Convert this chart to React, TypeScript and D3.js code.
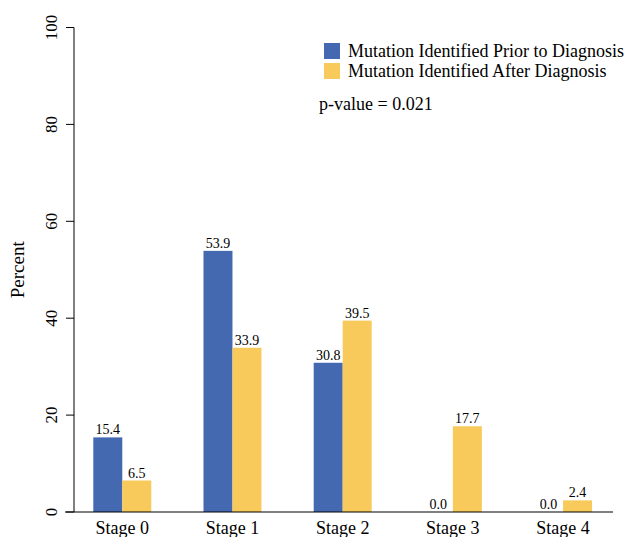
import React from "react";
import * as d3 from "d3";

const categories = ["Stage 0", "Stage 1", "Stage 2", "Stage 3", "Stage 4"];
const seriesNames = ["Mutation Identified Prior to Diagnosis", "Mutation Identified After Diagnosis"];
const priorValues = [15.4, 53.9, 30.8, 0.0, 0.0];
const afterValues = [6.5, 33.9, 39.5, 17.7, 2.4];
const yTicks = [0, 20, 40, 60, 80, 100];
const colors = ["#4469b1", "#f8c95b"];
const pValueText = "p-value = 0.021";

const W = 630;
const H = 537;
const FONT = "Liberation Serif, serif";
const ts = { fontFamily: FONT };

export default function App() {
  const x = d3.scaleBand<string>().domain(categories).range([65.75, 619.6]).paddingInner(0.474).paddingOuter(0.25);
  const x1 = d3.scaleBand<string>().domain(["prior", "after"]).range([0, x.bandwidth()]);
  const y = d3.scaleLinear().domain([0, 100]).range([512, 27.5]);
  const series = [
    { key: "prior", values: priorValues, color: colors[0] },
    { key: "after", values: afterValues, color: colors[1] },
  ];
  return (
    <svg width={W} height={H} style={{ position: "absolute", left: 0, top: 0 }}>
      <rect width={W} height={H} fill="#fff" />
      <line x1={74} x2={74} y1={y(100)} y2={y(0)} stroke="#000" strokeWidth={1} />
      {yTicks.map((t) => (
        <g key={t}>
          <line x1={66} x2={74} y1={y(t)} y2={y(t)} stroke="#000" />
          <text
            transform={`translate(57,${y(t)}) rotate(-90)`}
            textAnchor="middle"
            fontSize={17}
            fill="#000"
            style={ts}
          >
            {t}
          </text>
        </g>
      ))}
      <text transform={`translate(24,${y(50)}) rotate(-90)`} textAnchor="middle" fontSize={19} fill="#000" style={ts}>
        Percent
      </text>
      {categories.map((c, i) => (
        <g key={c} transform={`translate(${x(c)},0)`}>
          {series.map((s) => {
            const v = s.values[i];
            const bx = x1(s.key) as number;
            return (
              <g key={s.key}>
                <rect x={bx} y={y(v)} width={x1.bandwidth()} height={y(0) - y(v)} fill={s.color} />
                <text
                  x={bx + x1.bandwidth() / 2}
                  y={y(v) - 3}
                  textAnchor="middle"
                  fontSize={14}
                  fill="#000"
                  style={ts}
                >
                  {v.toFixed(1)}
                </text>
              </g>
            );
          })}
          <text x={x.bandwidth() / 2} y={534} textAnchor="middle" fontSize={18} fill="#000" style={ts}>
            {c}
          </text>
        </g>
      ))}
      <line x1={65} x2={613} y1={y(0)} y2={y(0)} stroke="#000" strokeWidth={1.2} />
      {seriesNames.map((n, i) => (
        <g key={n} transform={`translate(324,${43 + i * 20})`}>
          <rect width={16} height={16} fill={colors[i]} />
          <text x={24} y={14} fontSize={18} fill="#000" style={ts}>
            {n}
          </text>
        </g>
      ))}
      <text x={319} y={110} fontSize={18} fill="#000" style={ts}>
        {pValueText}
      </text>
    </svg>
  );
}
